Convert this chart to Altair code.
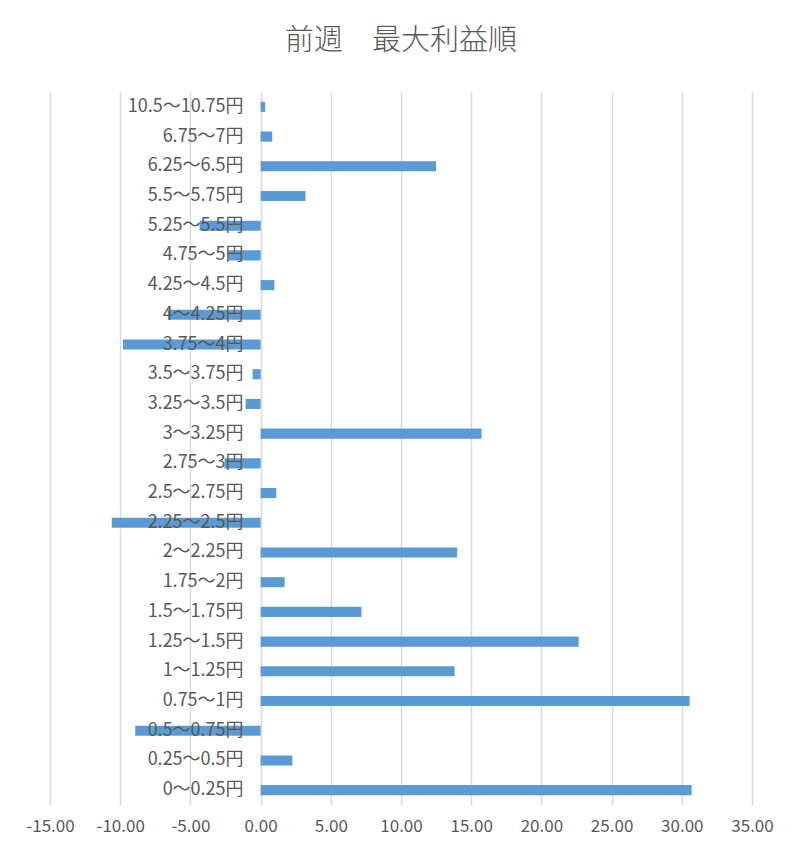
import altair as alt
import pandas as pd

categories = [
    "10.5～10.75円", "6.75～7円", "6.25～6.5円", "5.5～5.75円", "5.25～5.5円",
    "4.75～5円", "4.25～4.5円", "4～4.25円", "3.75～4円", "3.5～3.75円",
    "3.25～3.5円", "3～3.25円", "2.75～3円", "2.5～2.75円", "2.25～2.5円",
    "2～2.25円", "1.75～2円", "1.5～1.75円", "1.25～1.5円", "1～1.25円",
    "0.75～1円", "0.5～0.75円", "0.25～0.5円", "0～0.25円",
]
values = [
    0.33, 0.83, 12.5, 3.2, -4.35,
    -2.3, 0.98, -6.6, -9.8, -0.57,
    -1.07, 15.74, -2.57, 1.12, -10.6,
    14.0, 1.71, 7.19, 22.65, 13.82,
    30.56, -8.93, 2.26, 30.7,
]
x_ticks = [-15, -10, -5, 0, 5, 10, 15, 20, 25, 30, 35]

df = pd.DataFrame({"cat": categories, "val": values})

FONT = "Noto Sans CJK JP"
TXT = "#595959"

y_enc = alt.Y(
    "cat:N",
    sort=categories,
    axis=None,
    scale=alt.Scale(paddingInner=0.66, paddingOuter=0.33),
)

bars = alt.Chart(df).mark_bar(color="#5b9bd5").encode(
    x=alt.X(
        "val:Q",
        scale=alt.Scale(domain=[-15, 35], nice=False, zero=False),
        axis=alt.Axis(
            values=x_ticks,
            labelExpr="replace(format(datum.value, '.2f'), '\u2212', '-')",
            title=None,
            grid=True,
            gridColor="#d9d9d9",
            gridWidth=1.5,
            ticks=False,
            domain=False,
            labelOverlap=False,
            labelFlush=False,
            labelFont=FONT,
            labelFontSize=17,
            labelColor=TXT,
            labelPadding=13,
        ),
    ),
    y=y_enc,
)

labels = alt.Chart(df).mark_text(
    align="right", baseline="middle", dx=-17, font=FONT, fontSize=18, color=TXT
).encode(
    x=alt.datum(0),
    y=y_enc,
    text="cat:N",
)

chart = (
    alt.layer(bars, labels)
    .properties(
        width=702,
        height=713,
        background="white",
        title=alt.TitleParams(
            text="前週　最大利益順",
            font=FONT,
            fontSize=29,
            fontWeight=300,
            color=TXT,
            anchor="middle",
            offset=36,
        ),
        autosize=alt.AutoSizeParams(type="none"),
        padding={"left": 42, "top": 84, "right": 40, "bottom": 40},
    )
    .configure_view(strokeWidth=0, stroke="transparent")
    .configure_axis(domain=False, ticks=False)
)

chart.save("out.html", embed_options={"renderer": "svg", "actions": False})
